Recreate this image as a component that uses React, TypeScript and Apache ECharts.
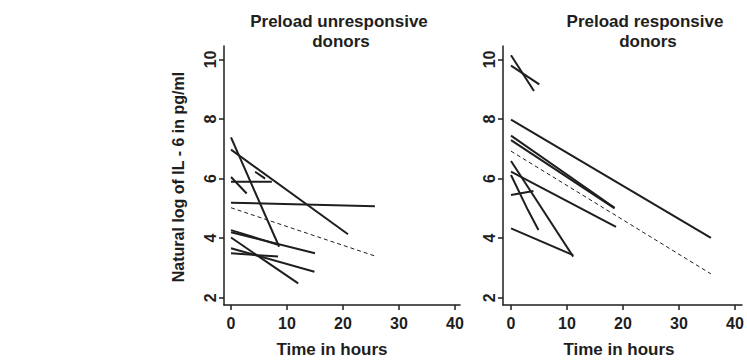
import React, { useEffect, useRef } from "react";
import * as echarts from "echarts";

// x ticks (hours) and y ticks (ln IL-6)
const xTicks = [0, 10, 20, 30, 40];
const yTicks = [2, 4, 6, 8, 10];

// Preload unresponsive donors: each donor is a list of [hour, value]
const unresponsiveDonors: number[][][] = [
  [[0, 7.38], [8.6, 3.71]],
  [[0, 6.97], [20.9, 4.13]],
  [[0, 6.05], [2.8, 5.5]],
  [[0, 5.89], [7.3, 5.89]],
  [[4.3, 6.23], [6.1, 6.0]],
  [[0, 5.19], [25.7, 5.07]],
  [[0, 4.27], [8.4, 3.78]],
  [[0, 4.2], [15, 3.49]],
  [[0, 4.02], [12, 2.48]],
  [[0, 3.66], [14.9, 2.87]],
  [[0, 3.49], [8.4, 3.38]],
];
const unresponsiveTrend: number[][] = [[0, 5.02], [25.7, 3.4]];

// Preload responsive donors
const responsiveDonors: number[][][] = [
  [[0, 10.14], [4.1, 8.94]],
  [[0, 9.79], [5.05, 9.16]],
  [[0, 7.98], [35.7, 4.01]],
  [[0, 7.44], [18.5, 5.02]],
  [[0, 7.29], [18.5, 5.0]],
  [[0, 6.59], [11.1, 3.38]],
  [[0, 6.23], [18.75, 4.38]],
  [[0, 6.12], [3.0, 4.95], [4.9, 4.27]],
  [[0, 5.45], [4.0, 5.58]],
  [[0, 4.33], [11.1, 3.43]],
];
const responsiveTrend: number[][] = [[0, 6.92], [35.7, 2.8]];

const FONT = "'Liberation Sans', Arial, sans-serif";
const INK = "#1e1e1e";

export default function App() {
  const ref = useRef<HTMLDivElement>(null);
  useEffect(() => {
    if (!ref.current) return;
    const chart = echarts.init(ref.current, null, { renderer: "svg" });

    const mkX = (gi: number, min: number, max: number) => ({
      type: "value" as const,
      gridIndex: gi,
      min,
      max,
      splitLine: { show: false },
      axisLine: { show: true, onZero: false, lineStyle: { color: INK, width: 1.5 } },
      axisTick: { show: true, length: 5, lineStyle: { color: INK, width: 1.5 }, customValues: xTicks },
      axisLabel: {
        show: true,
        customValues: xTicks,
        color: INK,
        fontFamily: FONT,
        fontWeight: "bold" as const,
        fontSize: 16,
        margin: 10,
      },
    });
    const mkY = (gi: number) => ({
      type: "value" as const,
      gridIndex: gi,
      min: 1.755,
      max: 10.45,
      splitLine: { show: false },
      axisLine: { show: true, onZero: false, lineStyle: { color: INK, width: 1.5 } },
      axisTick: { show: true, length: 5, lineStyle: { color: INK, width: 1.5 }, customValues: yTicks },
      axisLabel: {
        show: true,
        customValues: yTicks,
        rotate: 90,
        color: INK,
        fontFamily: FONT,
        fontWeight: "bold" as const,
        fontSize: 16,
        margin: 6,
      },
    });

    const series: any[] = [];
    const addLine = (data: number[][], gi: number, dashed: boolean) => {
      series.push({
        type: "line",
        xAxisIndex: gi,
        yAxisIndex: gi,
        data,
        symbol: "none",
        silent: true,
        lineStyle: dashed
          ? { color: INK, width: 1, type: [4, 3] }
          : { color: INK, width: 2 },
      });
    };
    unresponsiveDonors.forEach((d) => addLine(d, 0, false));
    addLine(unresponsiveTrend, 0, true);
    responsiveDonors.forEach((d) => addLine(d, 1, false));
    addLine(responsiveTrend, 1, true);

    const txt = (text: string, x: number, y: number, size: number, rot = 0) => ({
      type: "text",
      x,
      y,
      rotation: rot,
      silent: true,
      style: {
        text,
        fill: INK,
        font: `bold ${size}px ${FONT}`,
        textAlign: "center",
        textVerticalAlign: "middle",
      },
    });

    chart.setOption({
      animation: false,
      backgroundColor: "#ffffff",
      grid: [
        { left: 224, top: 46, width: 236, height: 259 },
        { left: 503, top: 46, width: 239, height: 259 },
      ],
      xAxis: [mkX(0, -1.25, 40.9), mkX(1, -1.43, 41.25)],
      yAxis: [mkY(0), mkY(1)],
      series,
      graphic: [
        txt("Preload unresponsive", 339, 21, 17),
        txt("donors", 341, 41, 17),
        txt("Preload responsive", 645, 21, 17),
        txt("donors", 648, 41, 17),
        txt("Time in hours", 332, 349, 17),
        txt("Time in hours", 619, 349, 17),
        txt("Natural log of IL - 6 in pg/ml", 178, 177, 16, Math.PI / 2),
      ],
    });
    return () => chart.dispose();
  }, []);
  return (
    <div
      ref={ref}
      style={{ position: "fixed", left: 0, top: 0, width: 747, height: 360 }}
    />
  );
}
